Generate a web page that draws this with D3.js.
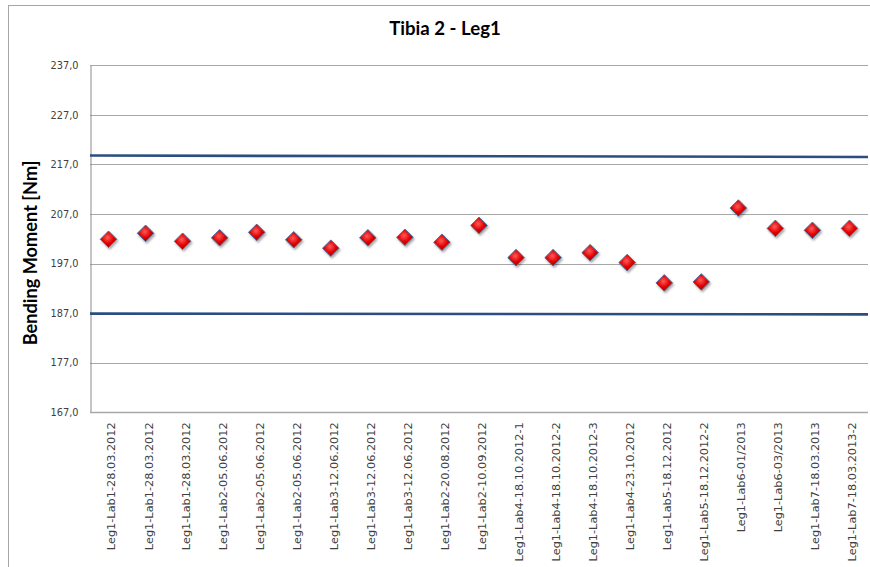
<!DOCTYPE html>
<html><head><meta charset="utf-8">
<script src="https://cdn.jsdelivr.net/npm/d3@7/dist/d3.min.js"></script>
<style>html,body{margin:0;padding:0;background:#fff;}svg{display:block;}</style>
</head><body>
<script>
const chartTitle = "Tibia 2 - Leg1";
const yAxisTitle = "Bending Moment [Nm]";
const categories = [
  "Leg1-Lab1-28.03.2012","Leg1-Lab1-28.03.2012","Leg1-Lab1-28.03.2012",
  "Leg1-Lab2-05.06.2012","Leg1-Lab2-05.06.2012","Leg1-Lab2-05.06.2012",
  "Leg1-Lab3-12.06.2012","Leg1-Lab3-12.06.2012","Leg1-Lab3-12.06.2012",
  "Leg1-Lab2-20.08.2012","Leg1-Lab2-10.09.2012","Leg1-Lab4-18.10.2012-1",
  "Leg1-Lab4-18.10.2012-2","Leg1-Lab4-18.10.2012-3","Leg1-Lab4-23.10.2012",
  "Leg1-Lab5-18.12.2012","Leg1-Lab5-18.12.2012-2","Leg1-Lab6-01/2013",
  "Leg1-Lab6-03/2013","Leg1-Lab7-18.03.2013","Leg1-Lab7-18.03.2013-2"
];
const values = [201.9,203.1,201.5,202.2,203.3,201.8,200.1,202.2,202.3,201.3,204.7,
                198.2,198.2,199.2,197.2,193.1,193.3,208.2,204.1,203.7,204.1];
const upperLimit = [218.8, 218.5];   // left edge, right edge
const lowerLimit = [186.9, 186.75];
const yTicks = [167,177,187,197,207,217,227,237];

const W = 870, H = 567;
const M = {left: 90, right: 2, top: 65.3, bottom: 154.7};

const svg = d3.select("body").append("svg").attr("width", W).attr("height", H);
const defs = svg.append("defs");
const rg = defs.append("radialGradient").attr("id","red").attr("cx","45%").attr("cy","40%").attr("r","60%");
rg.append("stop").attr("offset","0%").attr("stop-color","#ff5a5a");
rg.append("stop").attr("offset","60%").attr("stop-color","#e00000");
rg.append("stop").attr("offset","100%").attr("stop-color","#a80000");
const f = defs.append("filter").attr("id","sh").attr("x","-50%").attr("y","-50%").attr("width","200%").attr("height","200%");
f.append("feDropShadow").attr("dx",1.2).attr("dy",1.8).attr("stdDeviation",1.1).attr("flood-color","#000").attr("flood-opacity",0.35);

// outer frame
svg.append("rect").attr("x",8.5).attr("y",5.5).attr("width",1000).attr("height",1000)
  .attr("fill","none").attr("stroke","#a6a6a6");

const x = d3.scaleBand().domain(d3.range(categories.length)).range([M.left, W - M.right]).padding(0);
const xEdge = d3.scaleLinear().domain([0,1]).range([M.left, W - M.right]);
const y = d3.scaleLinear().domain([167,237]).range([H - M.bottom, M.top]);

// gridlines
svg.append("g").selectAll("line").data(yTicks.slice(1)).join("line")
  .attr("x1", M.left).attr("x2", W - M.right)
  .attr("y1", d => Math.round(y(d)) + 0.5).attr("y2", d => Math.round(y(d)) + 0.5)
  .attr("stroke","#a8a8a8").attr("stroke-width",1);

// y axis
const yAxis = d3.axisLeft(y).tickValues(yTicks).tickSize(0).tickPadding(12)
  .tickFormat(d => d3.format(".1f")(d).replace(".", ","));
const gy = svg.append("g").attr("transform",`translate(${M.left + 0.5},0)`).call(yAxis);
gy.select(".domain").attr("stroke","#8c8c8c");
gy.selectAll("text").attr("font-family","DejaVu Sans, Verdana, sans-serif").attr("font-size","9.8px").attr("fill","#404040");

// x axis baseline
svg.append("line").attr("x1",M.left).attr("x2",W - M.right)
  .attr("y1", Math.round(y(167)) + 0.5).attr("y2", Math.round(y(167)) + 0.5)
  .attr("stroke","#a8a8a8").attr("stroke-width",1.5);

// x labels
svg.append("g").selectAll("text").data(categories).join("text")
  .attr("transform",(d,i) => `translate(${x(i) + x.bandwidth()/2 + 3},${y(167) + 10}) rotate(-90)`)
  .attr("text-anchor","end").attr("dy","0.35em")
  .attr("font-family","DejaVu Sans, Verdana, sans-serif").attr("font-size","11.3px").attr("fill","#404040")
  .text(d => d);

// limit lines
const line = d3.line().x((d,i) => xEdge(i)).y(d => y(d));
[upperLimit, lowerLimit].forEach(arr => {
  svg.append("path").datum(arr).attr("d", line).attr("fill","none")
    .attr("stroke","#2b4d82").attr("stroke-width",2.6);
});

// markers
const r = 8.3;
svg.append("g").selectAll("path").data(values).join("path")
  .attr("transform",(d,i) => `translate(${x(i) + x.bandwidth()/2},${y(d)})`)
  .attr("d", `M0,${-r}L${r},0L0,${r}L${-r},0Z`)
  .attr("fill","url(#red)").attr("stroke","#50709e").attr("stroke-width",1)
  .attr("filter","url(#sh)");

// title
svg.append("text").attr("x",445).attr("y",35).attr("text-anchor","middle")
  .attr("font-family","Lato, Open Sans, sans-serif").attr("font-weight","bold").attr("font-size","18.6px")
  .attr("fill","#000").text(chartTitle);

// y title
svg.append("text").attr("transform",`translate(36.5,253) rotate(-90)`).attr("text-anchor","middle")
  .attr("font-family","Lato, Open Sans, sans-serif").attr("font-weight","bold").attr("font-size","18.2px")
  .attr("fill","#000").text(yAxisTitle);
</script>
</body></html>
